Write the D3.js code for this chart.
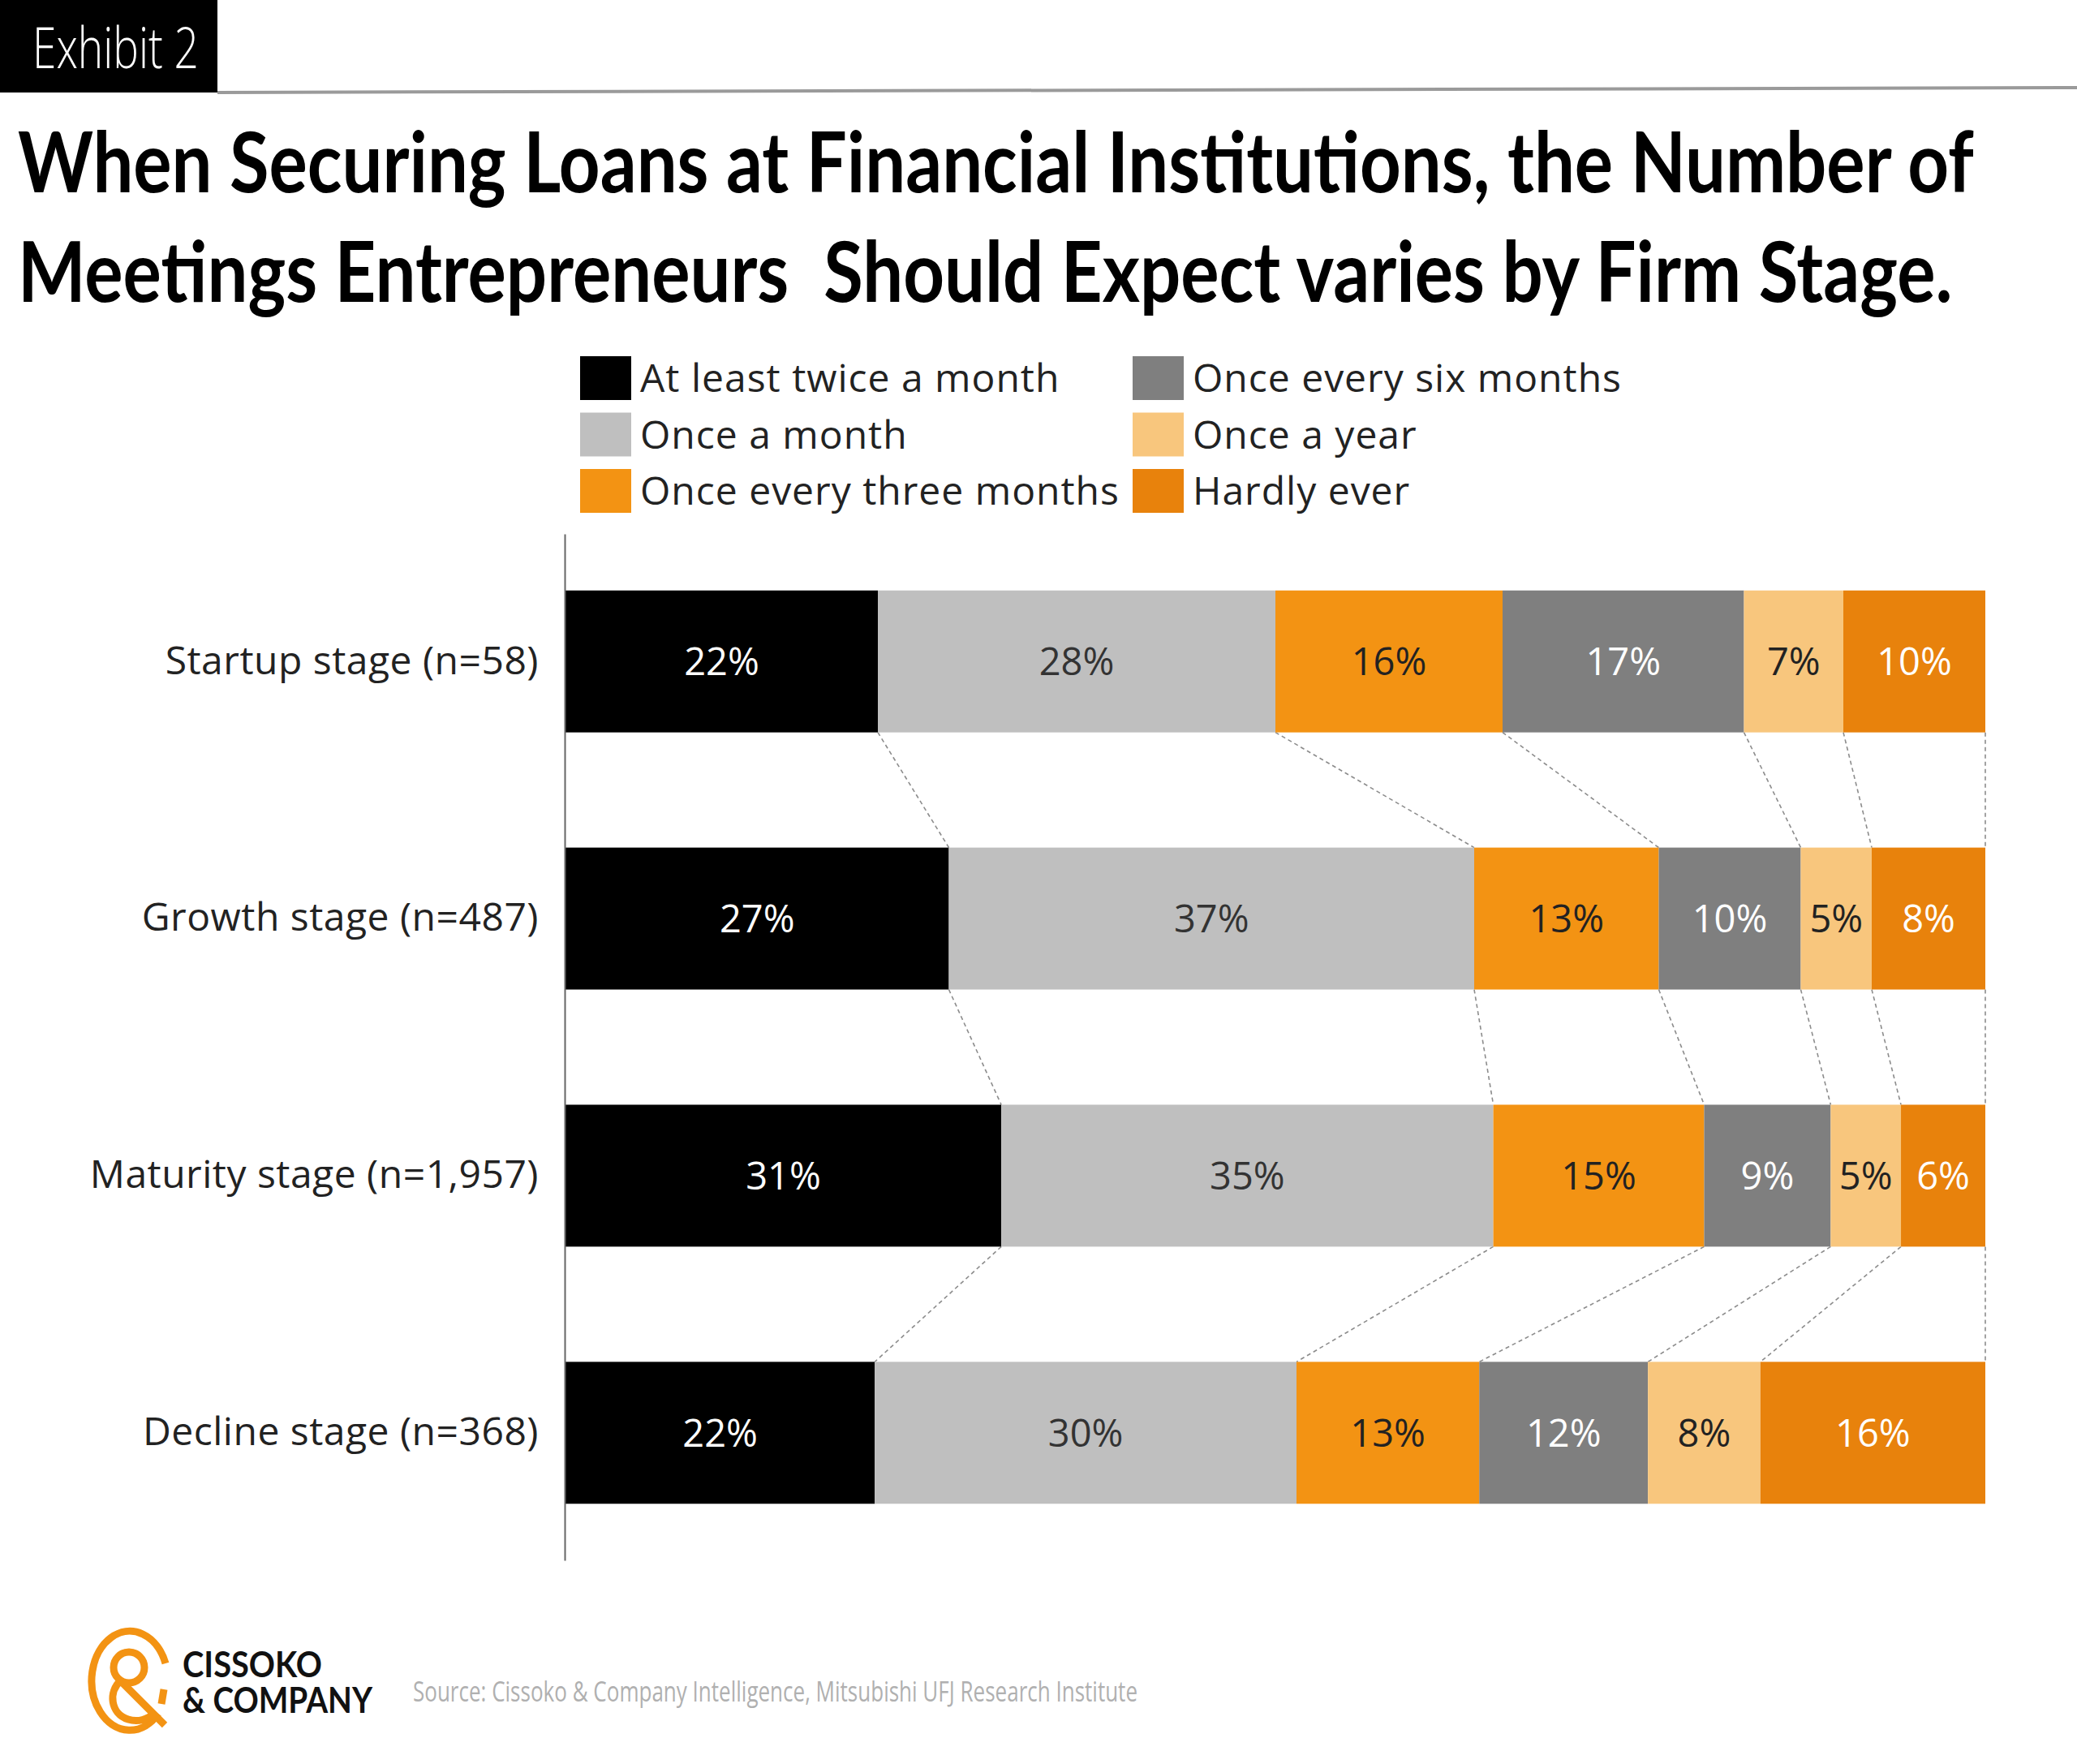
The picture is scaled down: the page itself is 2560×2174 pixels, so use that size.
<!DOCTYPE html>
<html>
<head>
<meta charset="utf-8">
<script src="https://cdn.jsdelivr.net/npm/d3@7"></script>
<style>
  body { margin: 0; background: #fff; }
  svg { display: block; }
</style>
</head>
<body>
<div id="chart"></div>
<script>
var width = 2560;
var height = 2174;

// chart data
var stages = ["Startup stage (n=58)", "Growth stage (n=487)", "Maturity stage (n=1,957)", "Decline stage (n=368)"];
var frequencies = ["At least twice a month", "Once a month", "Once every three months",
                   "Once every six months", "Once a year", "Hardly ever"];
var atLeastTwiceMonth = [22, 27, 31, 22];
var onceMonth = [28, 37, 35, 30];
var onceThreeMonths = [16, 13, 15, 13];
var onceSixMonths = [17, 10, 9, 12];
var onceYear = [7, 5, 5, 8];
var hardlyEver = [10, 8, 6, 16];
var seriesValues = [atLeastTwiceMonth, onceMonth, onceThreeMonths, onceSixMonths, onceYear, hardlyEver];

var colors = ["#000000", "#bfbfbf", "#f39313", "#7f7f7f", "#f8c67d", "#e8820c"];
var labelColors = ["#ffffff", "#333333", "#222222", "#ffffff", "#222222", "#ffffff"];

// build one row per stage, normalised so that every bar fills the width
var rows = stages.map(function (stage, i) {
	var row = { stage: stage };
	var total = d3.sum(seriesValues, s => s[i]);
	frequencies.forEach(function (f, k) { row[f] = seriesValues[k][i] / total; });
	row.raw = seriesValues.map(s => s[i]);
	return row;
});
var stacked = d3.stack().keys(frequencies)(rows);

var svg = d3.select("#chart").append("svg")
	.attr("width", width)
	.attr("height", height);

// header -------------------------------------------------------------
svg.append("rect")
	.attr("x", 0).attr("y", 0)
	.attr("width", 268).attr("height", 114)
	.attr("fill", "#000");
svg.append("text")
	.attr("x", 40).attr("y", 84)
	.attr("font-family", "Open Sans")
	.attr("font-weight", 300)
	.attr("font-size", 70)
	.attr("fill", "#fff")
	.attr("textLength", 205)
	.attr("lengthAdjust", "spacingAndGlyphs")
	.text("Exhibit 2");
svg.append("line")
	.attr("x1", 268).attr("y1", 114)
	.attr("x2", width).attr("y2", 108)
	.attr("stroke", "#9a9a9a")
	.attr("stroke-width", 4);

var titleLines = ["When Securing Loans at Financial Institutions, the Number of",
                  "Meetings Entrepreneurs  Should Expect varies by Firm Stage."];
var titleWidths = [2411, 2385];
// condensed look: squeeze each line horizontally to the width it takes in the original
svg.selectAll(".title").data(titleLines).enter().append("text")
	.attr("class", "title")
	.attr("x", 0)
	.attr("y", 0)
	.attr("font-family", "Lato")
	.attr("font-weight", 700)
	.attr("font-size", 104)
	.attr("fill", "#000")
	.style("white-space", "pre")
	.text(d => d)
	.each(function (d, i) {
		var natural = this.getComputedTextLength();
		d3.select(this).attr("transform",
			`translate(22, ${237 + i * 135}) scale(${titleWidths[i] / natural}, 1)`);
	});

// legend -------------------------------------------------------------
var legend = svg.append("g").attr("transform", "translate(715, 439)");
var legend_item = legend.selectAll("g").data(frequencies).enter().append("g")
	.attr("transform", (d, i) => `translate(${Math.floor(i / 3) * 681}, ${(i % 3) * 69.5})`);
legend_item.append("rect")
	.attr("width", 63)
	.attr("height", 54)
	.attr("fill", (d, i) => colors[i]);
legend_item.append("text")
	.attr("x", 74)
	.attr("y", 27)
	.attr("dy", "0.36em")
	.attr("font-family", "Open Sans")
	.attr("font-size", 48)
	.attr("letter-spacing", 1)
	.attr("fill", "#222")
	.text(d => d);

// bars ---------------------------------------------------------------
var xScale = d3.scaleLinear()
	.domain([0, 1])
	.range([697, 2447]);

var yScale = d3.scaleBand()
	.domain(stages)
	.range([658, 1923])
	.paddingInner(0.448)
	.paddingOuter(0.22);

// dashed connectors between neighbouring bars
var connectors = [];
for (var i = 0; i < stages.length - 1; i++) {
	stacked.forEach(function (layer) {
		connectors.push({
			x1: xScale(layer[i][1]),
			y1: yScale(stages[i]) + yScale.bandwidth(),
			x2: xScale(layer[i + 1][1]),
			y2: yScale(stages[i + 1])
		});
	});
}
svg.append("g").selectAll("line").data(connectors).enter().append("line")
	.attr("x1", d => d.x1).attr("y1", d => d.y1)
	.attr("x2", d => d.x2).attr("y2", d => d.y2)
	.attr("stroke", "#8c8c8c")
	.attr("stroke-width", 1.6)
	.attr("stroke-dasharray", "5,4");

var layers = svg.append("g").selectAll("g").data(stacked).enter().append("g")
	.attr("fill", (d, k) => colors[k]);
layers.selectAll("rect").data(d => d).enter().append("rect")
	.attr("x", d => xScale(d[0]))
	.attr("y", d => yScale(d.data.stage))
	.attr("width", d => xScale(d[1]) - xScale(d[0]))
	.attr("height", yScale.bandwidth());

layers.selectAll("text").data((d, k) => d.map(p => ({ p: p, k: k }))).enter().append("text")
	.attr("x", d => (xScale(d.p[0]) + xScale(d.p[1])) / 2)
	.attr("y", d => yScale(d.p.data.stage) + yScale.bandwidth() / 2)
	.attr("dy", "0.36em")
	.attr("text-anchor", "middle")
	.attr("font-family", "Open Sans")
	.attr("font-size", 47)
	.attr("fill", d => labelColors[d.k])
	.text(d => d.p.data.raw[d.k] + "%");

// y axis with stage labels
var yAxis = d3.axisLeft(yScale).tickSize(0).tickSizeOuter(0).tickPadding(32);
var y_axis = svg.append("g")
	.attr("transform", "translate(696, 0)")
	.call(yAxis);
y_axis.select(".domain").attr("stroke", "#666").attr("stroke-width", 2);
y_axis.selectAll("text")
	.attr("font-family", "Open Sans")
	.attr("font-size", 48)
	.attr("letter-spacing", 0.5)
	.attr("fill", "#222");

// footer -------------------------------------------------------------
var logo = svg.append("g")
	.attr("fill", "none")
	.attr("stroke", "#f39313")
	.attr("stroke-width", 9)
	.attr("stroke-linecap", "butt");
logo.append("path")
	.attr("d", "M204,2050 A47,61 0 1 0 195,2112");
logo.append("path")
	.attr("d", "M202,2082 L199,2100");
logo.append("circle")
	.attr("cx", 159).attr("cy", 2055).attr("r", 19);
logo.append("path")
	.attr("d", "M149,2071 C133,2085 136,2112 158,2119 C170,2123 182,2119 190,2112");
logo.append("path")
	.attr("d", "M150,2073 L203,2126");

var brand = svg.append("text")
	.attr("x", 225)
	.attr("font-family", "Lato").attr("font-weight", 700)
	.attr("font-size", 44)
	.attr("fill", "#111");
brand.append("tspan").attr("x", 225).attr("y", 2067)
	.attr("textLength", 172).attr("lengthAdjust", "spacingAndGlyphs")
	.text("CISSOKO");
brand.append("tspan").attr("x", 225).attr("y", 2111)
	.attr("textLength", 234).attr("lengthAdjust", "spacingAndGlyphs")
	.text("& COMPANY");

svg.append("text")
	.attr("x", 509).attr("y", 2097)
	.attr("font-family", "Open Sans")
	.attr("font-size", 34)
	.attr("textLength", 893).attr("lengthAdjust", "spacingAndGlyphs")
	.attr("fill", "#b0b0b0")
	.text("Source: Cissoko & Company Intelligence, Mitsubishi UFJ Research Institute");
</script>
</body>
</html>
